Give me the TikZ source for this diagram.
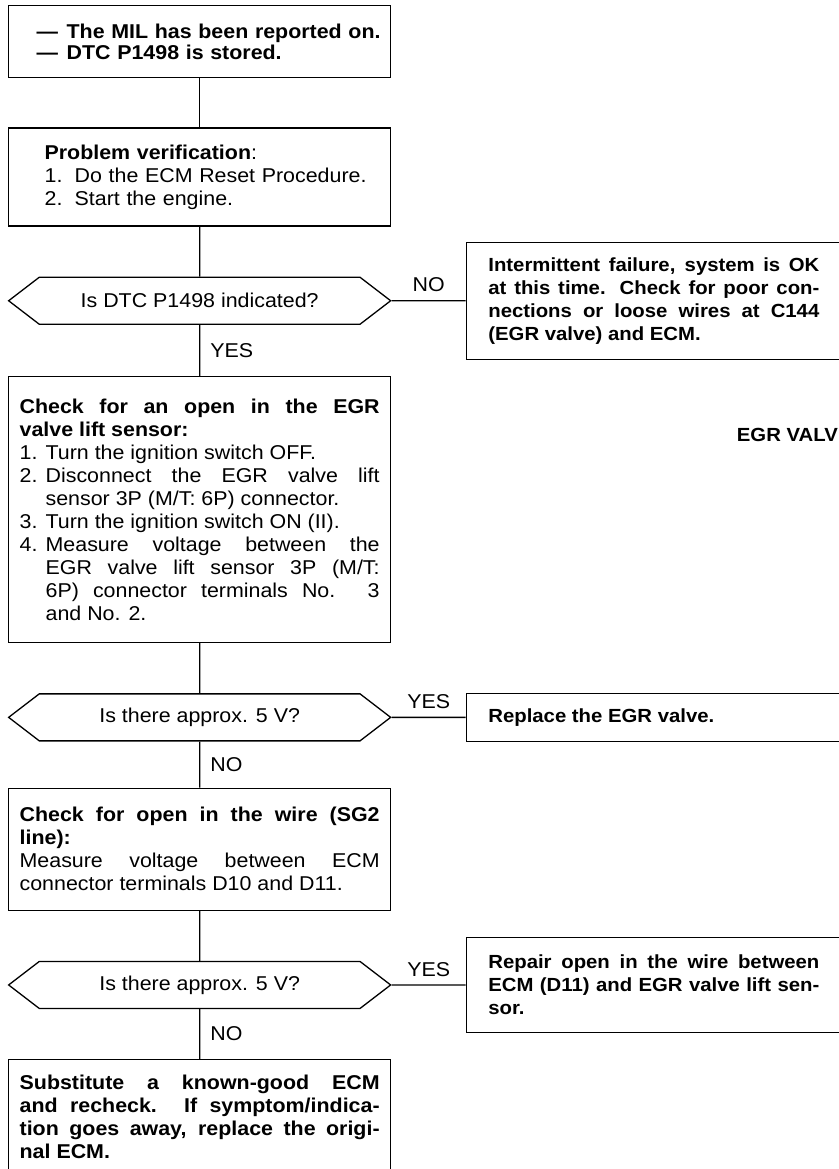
\documentclass[tikz,border=0pt]{standalone}
\usepackage{fontspec}
\setmainfont{Liberation Sans}[FakeStretch=1.07]
\usetikzlibrary{positioning,shapes.symbols}

\begin{document}
\begin{tikzpicture}[x=1pt, y=-1pt,
    box/.style={draw, line width=1.3pt, text width=360pt, inner xsep=11pt, inner ysep=0pt, align=justify, font=\fontsize{20}{23}\selectfont},
    side/.style={draw, line width=1.3pt, text width=331pt, inner xsep=22pt, inner ysep=0pt, align=justify, font=\bfseries\fontsize{19}{23}\selectfont},
    query/.style={draw, line width=1.3pt, signal, signal to=east and west, signal pointer angle=75, minimum width=382pt, minimum height=47pt, inner sep=0pt, font=\fontsize{20}{23}\selectfont},
    tag/.style={inner sep=0pt, font=\fontsize{20}{23}\selectfont},
    link/.style={line width=1.3pt}
]
\useasboundingbox (0,0) rectangle (838,1169);

% left column
\node[box, align=left, font=\bfseries\fontsize{20}{21}\selectfont, minimum height=72pt, anchor=north west] (mil) at (8,5)
    {\mbox{\hspace*{17pt}\makebox[30pt][l]{—}The MIL has been reported on.}\\\mbox{\hspace*{17pt}\makebox[30pt][l]{—}DTC P1498 is stored.}};
\node[box, align=left, minimum height=98pt, below=49pt of mil] (verify)
    {\hspace*{25pt}\textbf{Problem verification}:\\\hspace*{25pt}\makebox[30pt][l]{1.}Do the ECM Reset Procedure.\\\hspace*{25pt}\makebox[30pt][l]{2.}Start the engine.};
\node[query, below=50pt of verify] (q1) {Is DTC P1498 indicated?};
\node[box, minimum height=266pt, below=51pt of q1] (sensor)
    {\textbf{Check for an open in the EGR\linebreak valve lift sensor:}\\
     \makebox[26pt][l]{1.}Turn the ignition switch OFF.\\
     \makebox[26pt][l]{2.}Disconnect the EGR valve lift\linebreak
     \hspace*{26pt}sensor 3P (M/T: 6P) connector.\\
     \makebox[26pt][l]{3.}Turn the ignition switch ON (II).\\
     \makebox[26pt][l]{4.}Measure voltage between the\linebreak
     \hspace*{26pt}EGR valve lift sensor 3P (M/T:\linebreak
     \hspace*{26pt}6P) connector terminals No. 3\linebreak
     \hspace*{26pt}and No. 2.};
\node[query, below=50pt of sensor] (q2) {Is there approx. 5 V?};
\node[box, minimum height=122pt, below=46pt of q2] (wire)
    {\textbf{Check for open in the wire (SG2\linebreak line):}\\
     Measure voltage between ECM\linebreak connector terminals D10 and D11.};
\node[query, below=50pt of wire] (q3) {Is there approx. 5 V?};
\node[box, font=\bfseries\fontsize{20}{23}\selectfont, minimum height=115pt, below=50pt of q3] (ecm)
    {Substitute a known-good ECM\linebreak and recheck. If symptom/indica-\linebreak
     tion goes away, replace the origi-\linebreak nal ECM.};

% right column
\node[side, minimum height=117pt, right=74pt of q1] (intermit)
    {Intermittent failure, system is OK\linebreak at this time. Check for poor con-\linebreak
     nections or loose wires at C144\linebreak (EGR valve) and ECM.};
\node[side, minimum height=48pt, right=74pt of q2] (replace) {Replace the EGR valve.};
\node[side, minimum height=95pt, right=74pt of q3] (repair)
    {Repair open in the wire between\linebreak ECM (D11) and EGR valve lift sen-\linebreak sor.};
\node[tag, font=\bfseries\fontsize{19}{23}\selectfont, anchor=east] (egrvalve) at (838,435) {EGR VALV};

% connectors
\draw[link] (mil) -- (verify);
\draw[link] (verify) -- (q1);
\draw[link] (q1) -- node[tag, right=10pt] (yes1) {YES} (sensor);
\draw[link] (q1) -- node[tag, above=8pt] (no1) {NO} (intermit);
\draw[link] (sensor) -- (q2);
\draw[link] (q2) -- node[tag, right=10pt] (no2) {NO} (wire);
\draw[link] (q2) -- node[tag, above=8pt] (yes2) {YES} (replace);
\draw[link] (wire) -- (q3);
\draw[link] (q3) -- node[tag, right=10pt] (no3) {NO} (ecm);
\draw[link] (q3) -- node[tag, above=8pt] (yes3) {YES} (repair);
\end{tikzpicture}
\end{document}
